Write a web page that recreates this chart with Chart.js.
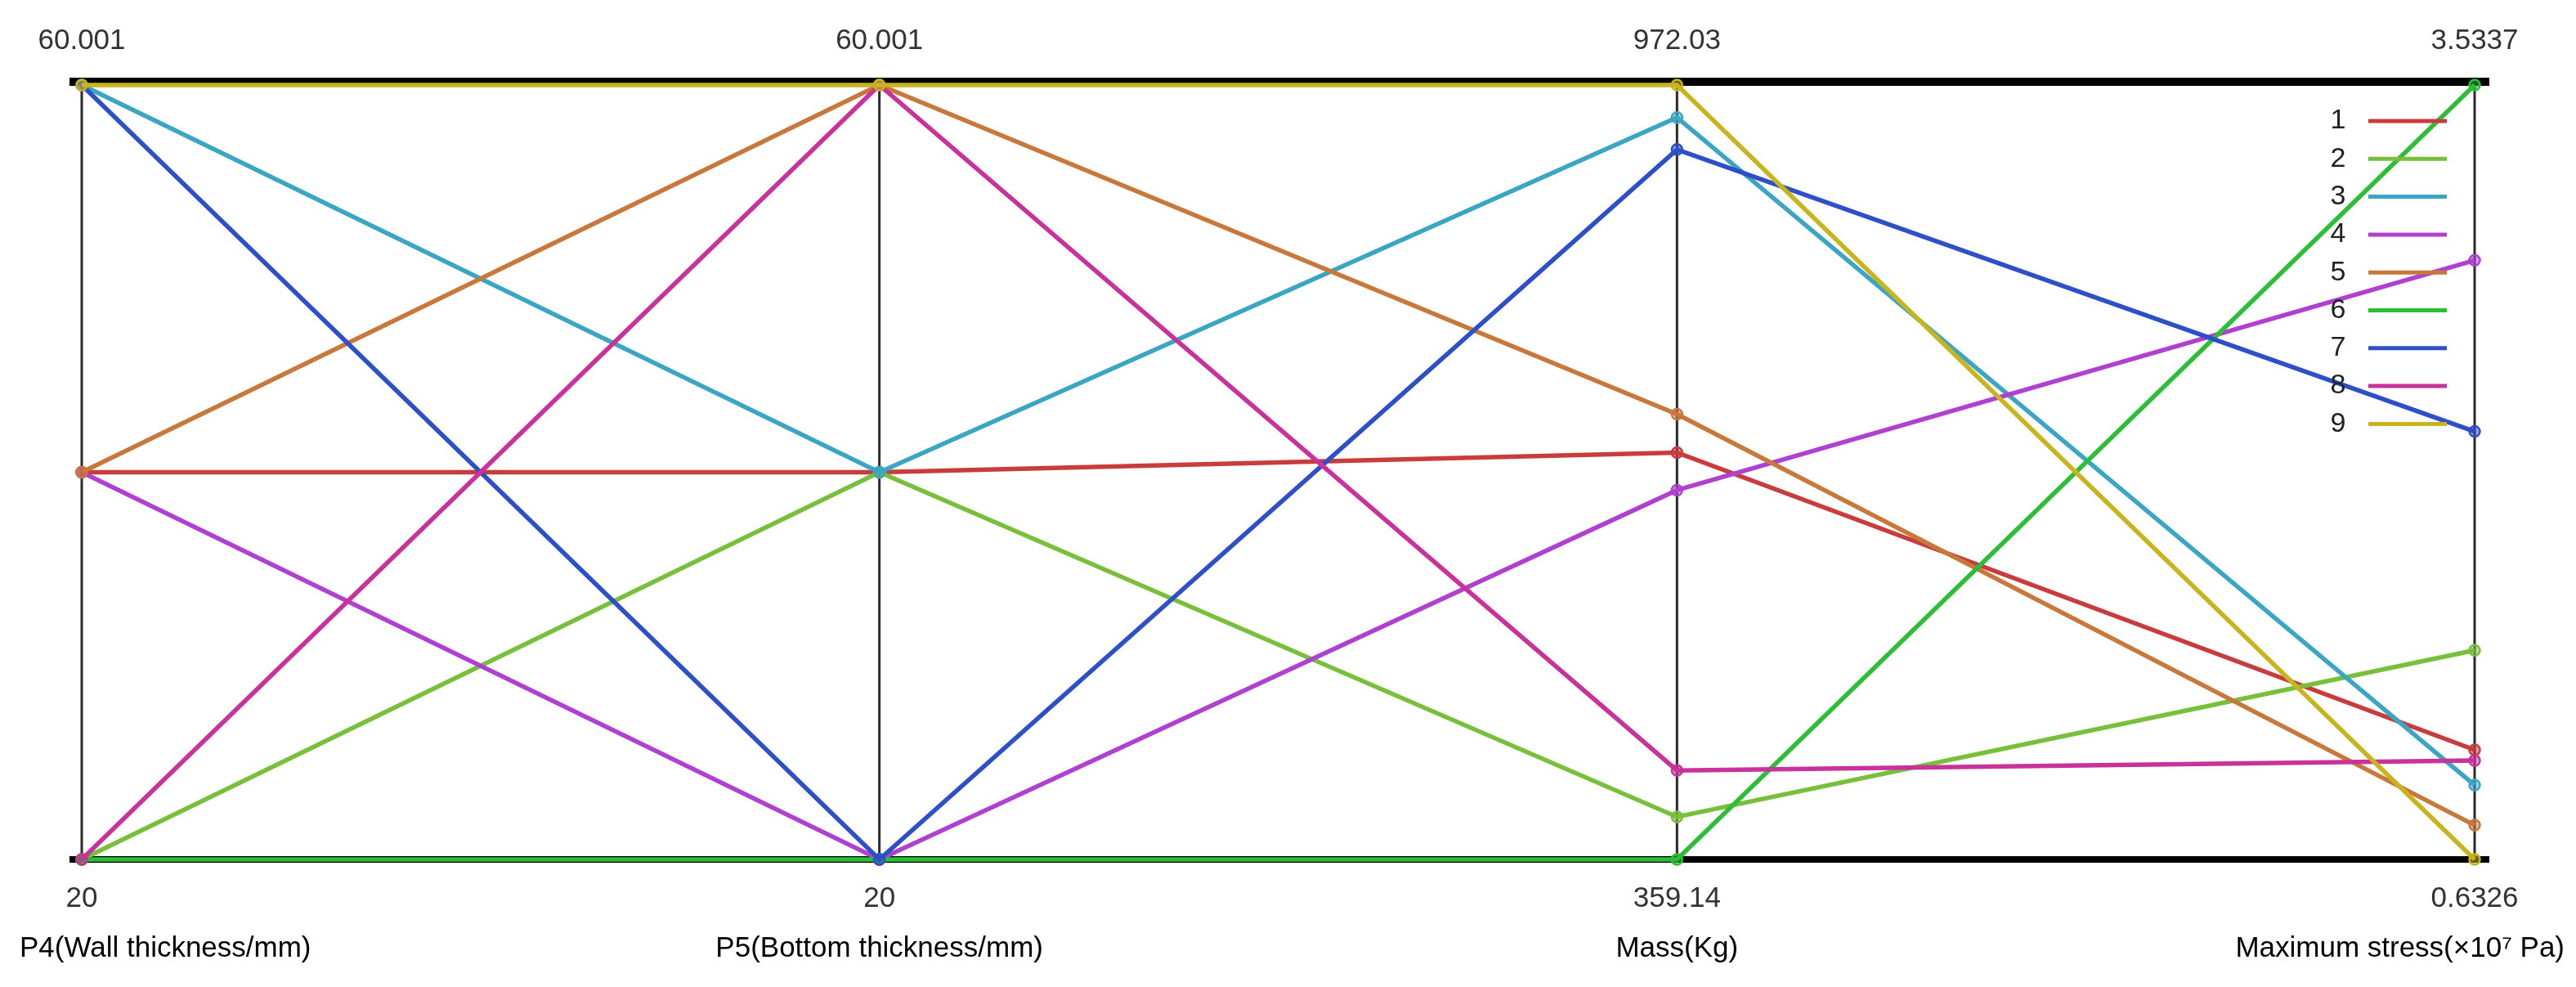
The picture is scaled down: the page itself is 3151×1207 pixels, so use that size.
<!DOCTYPE html>
<html><head><meta charset="utf-8">
<script src="https://cdn.jsdelivr.net/npm/chart.js@4.4.1/dist/chart.umd.min.js"></script>
<style>html,body{margin:0;padding:0;background:#fff;}#wrap{width:3151px;height:1207px;position:relative;}</style>
</head><body><div id="wrap"><canvas id="c"></canvas></div>
<script>
// ---- data ----
const axisTitles = ['P4(Wall thickness/mm)', 'P5(Bottom thickness/mm)', 'Mass(Kg)', 'Maximum stress(×10⁷ Pa)'];
const axisMaxLabels = ['60.001', '60.001', '972.03', '3.5337'];
const axisMinLabels = ['20', '20', '359.14', '0.6326'];
const axisMax = [60.001, 60.001, 972.03, 3.5337];
const axisMin = [20, 20, 359.14, 0.6326];

const seriesNames = ['1', '2', '3', '4', '5', '6', '7', '8', '9'];
const s1 = [40, 40, 681.1, 1.043];
const s2 = [20, 40, 392.8, 1.416];
const s3 = [60, 40, 946.3, 0.911];
const s4 = [40, 20, 651.4, 2.877];
const s5 = [40, 60, 711.5, 0.761];
const s6 = [20, 20, 359.14, 3.5337];
const s7 = [60, 20, 921.0, 2.236];
const s8 = [20, 60, 429.6, 1.003];
const s9 = [60, 60, 972.03, 0.6326];
const seriesValues = [s1, s2, s3, s4, s5, s6, s7, s8, s9];
const seriesColors = ['#c83c3c', '#78c03c', '#3aa6c4', '#b040d0', '#c8783a', '#2cbe36', '#2d4fc8', '#c8329a', '#c8b41e'];

// ---- build ----
const norm = (v, i) => (v - axisMin[i]) / (axisMax[i] - axisMin[i]);
const datasets = seriesValues.map((vals, k) => ({
  label: seriesNames[k],
  data: vals.map((v, i) => norm(v, i)),
  borderColor: seriesColors[k],
  backgroundColor: seriesColors[k],
  pointBackgroundColor: seriesColors[k] + '88',
  pointBorderColor: seriesColors[k],
  borderWidth: 5.5,
  pointRadius: 6.5,
  pointBorderWidth: 2.5,
  tension: 0,
  clip: false,
  order: seriesValues.length - k
}));

const FONT = '"Liberation Sans", Arial, sans-serif';

const pcPlugin = {
  id: 'pcAxes',
  beforeDatasetsDraw(chart) {
    const { ctx, chartArea, scales } = chart;
    const y0 = scales.y.getPixelForValue(0), y1 = scales.y.getPixelForValue(1);
    ctx.save();
    // vertical axes
    ctx.strokeStyle = '#2a2a2a';
    ctx.lineWidth = 3;
    axisTitles.forEach((t, i) => {
      const x = scales.x.getPixelForValue(i);
      ctx.beginPath(); ctx.moveTo(x, y1); ctx.lineTo(x, y0); ctx.stroke();
    });
    // thick top / bottom bars
    ctx.strokeStyle = '#000';
    ctx.lineWidth = 10;
    ctx.beginPath(); ctx.moveTo(chartArea.left - 15, y1 - 4); ctx.lineTo(chartArea.right + 18, y1 - 4); ctx.stroke();
    ctx.lineWidth = 8;
    ctx.beginPath(); ctx.moveTo(chartArea.left - 15, y0); ctx.lineTo(chartArea.right + 18, y0); ctx.stroke();
    ctx.restore();
  },
  afterDraw(chart) {
    const { ctx, chartArea, scales, width } = chart;
    const y0 = scales.y.getPixelForValue(0), y1 = scales.y.getPixelForValue(1);
    ctx.save();
    ctx.textBaseline = 'middle';
    // tick labels
    ctx.font = '35px ' + FONT;
    ctx.fillStyle = '#333';
    ctx.textAlign = 'center';
    axisTitles.forEach((t, i) => {
      const x = scales.x.getPixelForValue(i);
      ctx.fillText(axisMaxLabels[i], x, y1 - 54);
      ctx.fillText(axisMinLabels[i], x, y0 + 48);
    });
    // axis titles (clamped inside canvas)
    ctx.font = '35px ' + FONT;
    ctx.fillStyle = '#000';
    ctx.textAlign = 'left';
    axisTitles.forEach((t, i) => {
      const x = scales.x.getPixelForValue(i);
      const w = ctx.measureText(t).width;
      let left = x - w / 2;
      if (left < 24) left = 24;
      if (left + w > width - 14) left = width - 14 - w;
      ctx.fillText(t, left, y0 + 109);
    });
    // legend
    ctx.font = '34px ' + FONT;
    ctx.fillStyle = '#222';
    ctx.textAlign = 'center';
    seriesNames.forEach((n, k) => {
      const y = chartArea.top + 44 + k * 46.3;
      ctx.fillText(n, chartArea.right - 167, y);
      ctx.strokeStyle = seriesColors[k];
      ctx.lineWidth = 5;
      ctx.beginPath(); ctx.moveTo(chartArea.right - 130, y); ctx.lineTo(chartArea.right - 34, y); ctx.stroke();
    });
    ctx.restore();
  }
};

new Chart(document.getElementById('c'), {
  type: 'line',
  data: { labels: axisTitles, datasets },
  options: {
    responsive: true,
    maintainAspectRatio: false,
    animation: false,
    devicePixelRatio: 1,
    layout: { padding: { left: 100, right: 124, top: 104, bottom: 156 } },
    scales: {
      x: { type: 'category', offset: false, display: false },
      y: { type: 'linear', min: 0, max: 1, display: false }
    },
    plugins: { legend: { display: false }, tooltip: { enabled: false } }
  },
  plugins: [pcPlugin]
});
</script>
</body></html>
